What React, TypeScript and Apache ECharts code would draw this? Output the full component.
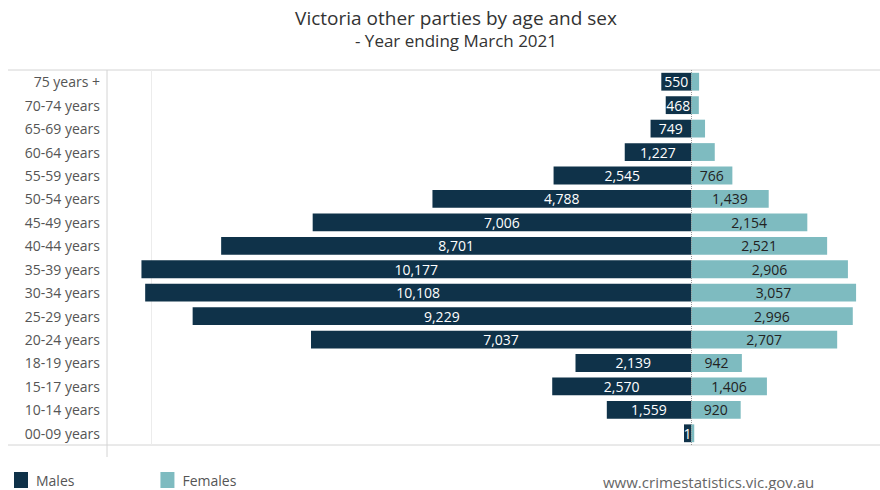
import React, { useEffect, useRef } from "react";
import * as echarts from "echarts";

const categories = [
  "75 years +", "70-74 years", "65-69 years", "60-64 years", "55-59 years",
  "50-54 years", "45-49 years", "40-44 years", "35-39 years", "30-34 years",
  "25-29 years", "20-24 years", "18-19 years", "15-17 years", "10-14 years", "00-09 years",
];
const males = [550, 468, 749, 1227, 2545, 4788, 7006, 8701, 10177, 10108, 9229, 7037, 2139, 2570, 1559, 130];
const females = [150, 145, 260, 440, 766, 1439, 2154, 2521, 2906, 3057, 2996, 2707, 942, 1406, 920, 60];
const gridValues = [-10000];

const NAVY = "#0f3249";
const TEAL = "#7ebbc0";
const FONT = "'Open Sans', sans-serif";

const fmt = (v: number) => Math.round(v).toLocaleString("en-US");

export default function App() {
  const ref = useRef<HTMLDivElement>(null);
  useEffect(() => {
    if (!ref.current) return;
    const chart = echarts.init(ref.current, undefined, { renderer: "svg" });
    chart.setOption({
      animation: false,
      textStyle: { fontFamily: FONT },
      title: {
        text: "Victoria other parties by age and sex",
        subtext: "- Year ending March 2021",
        left: 451,
        textAlign: "center",
        top: 3,
        itemGap: 5,
        textStyle: { fontSize: 19, fontWeight: "normal", color: "#333", fontFamily: FONT },
        subtextStyle: { fontSize: 17, color: "#333", fontFamily: FONT },
      },
      legend: {
        left: 14,
        top: 472,
        padding: 0,
        itemWidth: 14,
        itemHeight: 16,
        itemGap: 86,
        icon: "rect",
        textStyle: { fontSize: 14, color: "#555", fontFamily: FONT, padding: [0, 0, 0, 3] },
        data: ["Males", "Females"],
      },
      grid: { left: 107, right: 2, top: 70, bottom: 45, containLabel: false },
      xAxis: {
        type: "value",
        min: -10815,
        max: 3463,
        axisLabel: { show: false },
        axisTick: { show: false },
        axisLine: { show: false },
        splitLine: { show: false },
      },
      yAxis: {
        type: "category",
        data: categories,
        inverse: true,
        axisTick: { show: false },
        axisLine: { show: false },
        axisLabel: { margin: 7, fontSize: 14, color: "#555", fontFamily: FONT },
      },
      graphic: [
        { type: "line", shape: { x1: 8, y1: 70, x2: 880, y2: 70 }, style: { stroke: "#d4d4d4", lineWidth: 1 }, silent: true },
        { type: "line", shape: { x1: 8, y1: 445, x2: 880, y2: 445 }, style: { stroke: "#d4d4d4", lineWidth: 1 }, silent: true },
        { type: "line", shape: { x1: 107, y1: 70, x2: 107, y2: 457 }, style: { stroke: "#d4d4d4", lineWidth: 1 }, silent: true },
        {
          type: "text",
          left: 603,
          top: 474,
          style: { text: "www.crimestatistics.vic.gov.au", fontSize: 15, fill: "#666", fontFamily: FONT },
        },
      ],
      series: [
        {
          name: "grid",
          type: "line",
          data: [],
          z: 0,
          markLine: {
            silent: true,
            symbol: "none",
            z: 0,
            label: { show: false },
            lineStyle: { color: "#ececec", type: "solid", width: 1 },
            data: gridValues.map((v) => ({ xAxis: v })),
          },
        },
        {
          name: "Males",
          type: "bar",
          stack: "total",
          barCategoryGap: "24%",
          itemStyle: { color: NAVY },
          data: males.map((v) => -v),
          label: {
            show: true,
            position: "inside",
            color: "#fff",
            fontSize: 14,
            fontFamily: FONT,
            formatter: (p: any) => {
              const v = Math.abs(p.value);
              return v < 200 ? fmt(v).slice(0, 1) : fmt(v);
            },
          },
          z: 3,
        },
        {
          name: "Females",
          type: "bar",
          stack: "total",
          barCategoryGap: "24%",
          itemStyle: { color: TEAL },
          data: females,
          label: {
            show: true,
            position: "inside",
            color: "#222",
            fontSize: 14,
            fontFamily: FONT,
            formatter: (p: any) => (p.value >= 700 ? fmt(p.value) : ""),
          },
          markLine: {
            silent: true,
            symbol: "none",
            label: { show: false },
            data: [
              { xAxis: 0, lineStyle: { color: "#999", type: "dotted", width: 1 } },
            ],
          },
          z: 3,
        },
      ],
    });
    return () => chart.dispose();
  }, []);
  return <div ref={ref} style={{ position: "absolute", left: 0, top: 0, width: 880, height: 490 }} />;
}
